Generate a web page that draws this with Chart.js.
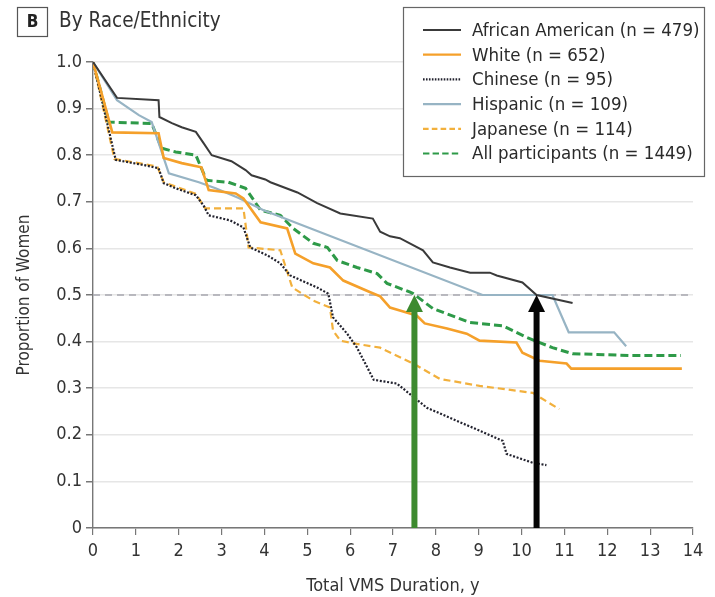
<!DOCTYPE html>
<html>
<head>
<meta charset="utf-8">
<script src="https://cdn.jsdelivr.net/npm/chart.js@4"></script>
<style>
  html, body { margin: 0; padding: 0; background: #fff; }
  #wrap { width: 715px; height: 597px; position: relative; }
</style>
</head>
<body>
<div id="wrap"><canvas id="kmChart" width="715" height="597"></canvas></div>
<script>
// values (years, proportion)
const afAmX = [0, 0.56, 1.53, 1.55, 1.84, 2.07, 2.4, 2.58, 2.77, 3.23, 3.56, 3.7, 4.02, 4.14, 4.77, 5.23, 5.77, 6.53, 6.7, 6.93, 7.16, 7.7, 7.93, 8.33, 8.8, 9.26, 9.42, 10.02, 10.35, 11.19];
const afAmY = [1, 0.923, 0.918, 0.882, 0.869, 0.86, 0.85, 0.826, 0.8, 0.787, 0.768, 0.757, 0.748, 0.742, 0.72, 0.697, 0.675, 0.664, 0.636, 0.626, 0.622, 0.596, 0.57, 0.559, 0.548, 0.548, 0.542, 0.527, 0.5, 0.483];

const whiteX = [0, 0.45, 1.53, 1.65, 2.07, 2.53, 2.7, 3.33, 3.51, 3.91, 4.53, 4.72, 5.14, 5.53, 5.84, 6.47, 6.7, 6.93, 7.16, 7.55, 7.74, 8.26, 8.72, 9.02, 9.88, 10.02, 10.42, 11.05, 11.16, 13.74];
const whiteY = [1, 0.849, 0.847, 0.794, 0.783, 0.774, 0.725, 0.718, 0.707, 0.656, 0.643, 0.589, 0.568, 0.559, 0.531, 0.506, 0.497, 0.473, 0.467, 0.456, 0.439, 0.428, 0.417, 0.402, 0.398, 0.376, 0.359, 0.353, 0.342, 0.342];

const chineseX = [0, 0.53, 1.23, 1.53, 1.65, 1.93, 2.4, 2.58, 2.7, 3.2, 3.51, 3.67, 4.07, 4.37, 4.6, 5.23, 5.49, 5.6, 5.93, 6.16, 6.55, 7.09, 7.79, 8.49, 9.19, 9.56, 9.65, 10.26, 10.58];
const chineseY = [1, 0.79, 0.778, 0.772, 0.74, 0.729, 0.714, 0.692, 0.671, 0.66, 0.645, 0.602, 0.585, 0.568, 0.542, 0.516, 0.503, 0.452, 0.417, 0.387, 0.318, 0.31, 0.258, 0.23, 0.202, 0.187, 0.159, 0.14, 0.135];

const hispX = [0, 0.56, 1.07, 1.37, 1.77, 2.47, 2.86, 3.4, 3.98, 9.09, 10.72, 11.1, 12.16, 12.44];
const hispY = [1, 0.918, 0.886, 0.871, 0.761, 0.742, 0.729, 0.708, 0.682, 0.5, 0.5, 0.42, 0.42, 0.39];

const japX = [0, 0.5, 1.5, 1.65, 2.4, 2.62, 3.51, 3.63, 4.37, 4.65, 5.14, 5.53, 5.6, 5.77, 6.16, 6.7, 7.47, 8.09, 9.02, 10.26, 10.88];
const japY = [1, 0.792, 0.776, 0.742, 0.717, 0.686, 0.686, 0.602, 0.596, 0.516, 0.488, 0.473, 0.424, 0.402, 0.395, 0.387, 0.353, 0.32, 0.305, 0.29, 0.255];

const allX = [0, 0.37, 1.37, 1.6, 1.93, 2.4, 2.65, 3.16, 3.56, 3.91, 4.37, 4.67, 5.14, 5.47, 5.7, 6.16, 6.63, 6.86, 7.4, 7.47, 7.93, 8.79, 9.56, 10.12, 10.72, 11.19, 12.58, 13.72];
const allY = [1, 0.871, 0.868, 0.815, 0.807, 0.8, 0.746, 0.742, 0.729, 0.682, 0.671, 0.643, 0.611, 0.602, 0.574, 0.559, 0.546, 0.525, 0.506, 0.503, 0.471, 0.441, 0.434, 0.409, 0.387, 0.374, 0.37, 0.37];

const seriesNames = ["African American (n = 479)", "White (n = 652)", "Chinese (n = 95)", "Hispanic (n = 109)", "Japanese (n = 114)", "All participants (n = 1449)"];
const medianLine = 0.5;
const arrowYears = [7.5, 10.35];   // green: all participants, black: African American
const xTicks = [0, 1, 2, 3, 4, 5, 6, 7, 8, 9, 10, 11, 12, 13, 14];
const yTicks = [0, 0.1, 0.2, 0.3, 0.4, 0.5, 0.6, 0.7, 0.8, 0.9, 1.0];

const FONT = "'Liberation Sans Narrow', 'DejaVu Sans Condensed', 'Open Sans', sans-serif";

function pts(xs, ys) {
  return xs.map((x, i) => ({ x: x, y: ys[i] }));
}

const styles = [
  { color: "#3a3a3a", width: 2, dash: [] },
  { color: "#f5a02a", width: 2.6, dash: [] },
  { color: "#22222e", width: 2.2, dash: [2, 1.7] },
  { color: "#97b4c4", width: 2.2, dash: [] },
  { color: "#f2b03c", width: 2.2, dash: [7, 4] },
  { color: "#2e9a48", width: 3, dash: [8, 4] },
];
const curves = [pts(afAmX, afAmY), pts(whiteX, whiteY), pts(chineseX, chineseY), pts(hispX, hispY), pts(japX, japY), pts(allX, allY)];

const datasets = curves.map((d, i) => ({
  label: seriesNames[i],
  data: d,
  borderColor: styles[i].color,
  borderWidth: styles[i].width,
  borderDash: styles[i].dash,
  pointRadius: 0,
  fill: false,
  tension: 0,
  order: 1,
}));
datasets.push({
  label: "median",
  data: [{ x: xTicks[0], y: medianLine }, { x: xTicks[xTicks.length - 1], y: medianLine }],
  borderColor: "#a8a8b0",
  borderWidth: 1.4,
  borderDash: [7, 5],
  pointRadius: 0,
  order: 5,
});

// arrows, panel label and legend box
const extras = {
  id: "extras",
  afterDatasetsDraw(chart) {
    const c = chart.ctx, xs = chart.scales.x, ys = chart.scales.y;
    const arrowColors = ["#3d8a2f", "#050505"];
    arrowYears.forEach((yr, i) => {
      const px = xs.getPixelForValue(yr);
      const tip = ys.getPixelForValue(medianLine);
      const base = ys.getPixelForValue(0);
      c.save();
      c.fillStyle = arrowColors[i];
      c.fillRect(px - 3, tip + 14, 6, base - tip - 14);
      c.beginPath();
      c.moveTo(px, tip);
      c.lineTo(px - 8.5, tip + 17);
      c.lineTo(px + 8.5, tip + 17);
      c.closePath();
      c.fill();
      c.restore();
    });
  },
  afterDraw(chart) {
    const c = chart.ctx;
    c.save();
    // panel label
    c.strokeStyle = "#555";
    c.lineWidth = 1.2;
    c.strokeRect(17.5, 7.5, 30, 29);
    c.fillStyle = "#222";
    c.font = "bold 17px " + FONT;
    c.textAlign = "center";
    c.textBaseline = "middle";
    c.fillText("B", 32.5, 22.5);
    c.font = "20.5px " + FONT;
    c.textAlign = "left";
    c.fillStyle = "#333";
    c.fillText("By Race/Ethnicity", 59, 22);

    // legend
    c.fillStyle = "#fff";
    c.fillRect(403, 7, 302, 170);
    c.strokeStyle = "#666";
    c.lineWidth = 1.2;
    c.strokeRect(403.5, 7.5, 301, 169);
    c.font = "18.5px " + FONT;
    c.textBaseline = "middle";
    seriesNames.forEach((name, i) => {
      const y = 30 + i * 24.7;
      c.beginPath();
      c.setLineDash(styles[i].dash.length ? styles[i].dash.map(v => v * 0.8) : []);
      c.strokeStyle = styles[i].color;
      c.lineWidth = Math.min(styles[i].width, 2.2);
      c.moveTo(423, y);
      c.lineTo(461, y);
      c.stroke();
      c.setLineDash([]);
      c.fillStyle = "#2a2a2a";
      c.fillText(name, 472, y + 1);
    });
    c.restore();
  },
};

const ctx = document.getElementById("kmChart").getContext("2d");
const kmChart = new Chart(ctx, {
  type: "line",
  data: { datasets: datasets },
  options: {
    responsive: false,
    animation: false,
    layout: { padding: { top: 62, right: 22, bottom: 0, left: 0 } },
    scales: {
      x: {
        type: "linear",
        min: 0,
        max: 14,
        afterBuildTicks: (axis) => { axis.ticks = xTicks.map(v => ({ value: v })); },
        afterFit: (axis) => { axis.height = 69; },
        ticks: { color: "#333", font: { family: FONT, size: 18 }, padding: 6, maxRotation: 0, autoSkip: false },
        grid: { drawOnChartArea: false, drawTicks: true, tickLength: 7, color: "#777", lineWidth: 1.2 },
        border: { color: "#777", width: 1.4 },
        title: { display: true, text: "Total VMS Duration, y", color: "#333", font: { family: FONT, size: 18 }, padding: { top: 4, bottom: 0 } },
      },
      y: {
        min: 0,
        max: 1,
        afterBuildTicks: (axis) => { axis.ticks = yTicks.map(v => ({ value: v })); },
        afterFit: (axis) => { axis.width = 93; },
        ticks: {
          color: "#333",
          font: { family: FONT, size: 18 },
          padding: 4,
          callback: (v) => (v === 0 ? "0" : v.toFixed(1)),
        },
        grid: { color: "#e6e6e6", lineWidth: 1.5, tickColor: "#777", tickLength: 7 },
        border: { color: "#777", width: 1.4 },
        title: { display: true, text: "Proportion of Women", color: "#333", font: { family: FONT, size: 17 }, padding: { top: 14, bottom: 0 } },
      },
    },
    plugins: {
      legend: { display: false },
      tooltip: { enabled: false },
    },
  },
  plugins: [extras],
});
</script>
</body>
</html>
